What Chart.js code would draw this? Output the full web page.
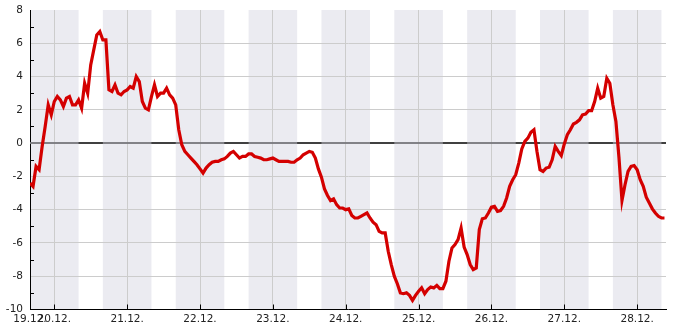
<!DOCTYPE html>
<html>
<head>
<meta charset="utf-8">
<script src="https://cdn.jsdelivr.net/npm/chart.js"></script>
<style>
  html, body { margin: 0; padding: 0; background: #fff; }
  canvas { display: block; }
</style>
</head>
<body>
<canvas id="chart" width="685" height="330"></canvas>
<script>
// hourly readings, hour 0 = 19.12. 00:00
const firstHour = 16;
const lastHour = 225.5;
const dayLabels = ['19.12.', '20.12.', '21.12.', '22.12.', '23.12.', '24.12.', '25.12.', '26.12.', '27.12.', '28.12.'];
const yTicks = [-10, -8, -6, -4, -2, 0, 2, 4, 6, 8];
// nights (16:00 -> 08:00), in hours
const nights = [[16, 32], [40, 56], [64, 80], [88, 104], [112, 128], [136, 152], [160, 176], [184, 200], [208, 224]];

const temps = [
  -2.4, -2.6, -1.4, -1.6, -0.2, 1.0, 2.3, 1.7, 2.5, 2.8,
  2.6, 2.2, 2.7, 2.8, 2.3, 2.3, 2.6, 2.1, 3.6, 3.0,
  4.7, 5.6, 6.5, 6.7, 6.2, 6.2, 3.2, 3.1, 3.5, 3.0,
  2.9, 3.1, 3.2, 3.4, 3.3, 4.0, 3.7, 2.5, 2.1, 2.0,
  2.8, 3.5, 2.8, 3.0, 3.0, 3.3, 2.9, 2.7, 2.3, 0.8,
  -0.1, -0.5, -0.7, -0.9, -1.1, -1.3, -1.55, -1.8, -1.5, -1.3,
  -1.15, -1.1, -1.1, -1.0, -0.95, -0.8, -0.6, -0.5, -0.7, -0.9,
  -0.8, -0.8, -0.65, -0.65, -0.8, -0.85, -0.9, -1.0, -1.0, -0.95,
  -0.9, -1.0, -1.1, -1.1, -1.1, -1.1, -1.15, -1.15, -1.0, -0.9,
  -0.7, -0.6, -0.5, -0.55, -0.9, -1.55, -2.05, -2.75, -3.15, -3.45,
  -3.35, -3.7, -3.9, -3.9, -4.0, -3.95, -4.35, -4.5, -4.5, -4.4,
  -4.3, -4.2, -4.5, -4.75, -4.9, -5.3, -5.4, -5.4, -6.5, -7.3,
  -8.0, -8.45, -9.0, -9.05, -9.0, -9.15, -9.45, -9.15, -8.9, -8.7,
  -9.05, -8.8, -8.65, -8.7, -8.55, -8.75, -8.75, -8.3, -7.1, -6.3,
  -6.1, -5.8, -5.1, -6.25, -6.7, -7.3, -7.6, -7.5, -5.2, -4.55,
  -4.5, -4.2, -3.85, -3.8, -4.1, -4.05, -3.8, -3.3, -2.6, -2.2,
  -1.9, -1.2, -0.35, 0.1, 0.3, 0.65, 0.8, -0.5, -1.6, -1.7,
  -1.5, -1.45, -1.0, -0.2, -0.5, -0.75, -0.05, 0.5, 0.8, 1.15,
  1.25, 1.4, 1.7, 1.75, 1.95, 1.95, 2.5, 3.3, 2.7, 2.8,
  3.9, 3.6, 2.3, 1.3, -0.85, -3.45, -2.5, -1.7, -1.4, -1.35,
  -1.6, -2.2, -2.6, -3.25, -3.6, -3.95, -4.2, -4.4, -4.5, -4.5
];

const hours = temps.map((_, i) => firstHour + i);
const points = temps.map((t, i) => ({ x: hours[i], y: t }));

const COLORS = {
  line: '#d40000',
  band: '#ebebf1',
  grid: '#cccccc',
  zeroNight: '#9b9ba0',
  text: '#222222'
};

// night bands under the grid, zero line + inner ticks before the data
const decor = {
  id: 'decor',
  beforeDraw(chart) {
    const { ctx, chartArea: a, scales: { x } } = chart;
    ctx.save();
    ctx.fillStyle = COLORS.band;
    nights.forEach(([s, e]) => {
      const x0 = Math.max(x.getPixelForValue(s), a.left);
      const x1 = Math.min(x.getPixelForValue(e), a.right);
      ctx.fillRect(x0, a.top, x1 - x0, a.bottom - a.top);
    });
    ctx.restore();
  },
  beforeDatasetsDraw(chart) {
    const { ctx, chartArea: a, scales: { x, y } } = chart;
    const y0 = y.getPixelForValue(0);
    ctx.save();
    ctx.lineWidth = 1.5;
    ctx.strokeStyle = '#000';
    ctx.beginPath();
    ctx.moveTo(a.left, y0);
    ctx.lineTo(a.right, y0);
    ctx.stroke();
    ctx.strokeStyle = COLORS.zeroNight;
    nights.forEach(([s, e]) => {
      const x0 = Math.max(x.getPixelForValue(s), a.left);
      const x1 = Math.min(x.getPixelForValue(e), a.right);
      ctx.beginPath();
      ctx.moveTo(x0, y0);
      ctx.lineTo(x1, y0);
      ctx.stroke();
    });

    // minor ticks on y (odd values), day ticks on x, pointing inward
    ctx.lineWidth = 1;
    ctx.strokeStyle = '#000';
    ctx.beginPath();
    for (let v = yTicks[0] + 1; v < yTicks[yTicks.length - 1]; v += 2) {
      const py = Math.round(y.getPixelForValue(v)) + 0.5;
      ctx.moveTo(a.left, py);
      ctx.lineTo(a.left + 4, py);
    }
    dayLabels.forEach((_, i) => {
      if (i === 0) return;
      const px = Math.round(x.getPixelForValue(i * 24)) + 0.5;
      ctx.moveTo(px, a.bottom);
      ctx.lineTo(px, a.bottom - 5);
    });
    ctx.stroke();
    ctx.restore();
  }
};

new Chart(document.getElementById('chart'), {
  type: 'line',
  data: {
    datasets: [{
      data: points,
      borderColor: COLORS.line,
      borderWidth: 3.2,
      pointRadius: 0,
      tension: 0,
      fill: false
    }]
  },
  options: {
    responsive: false,
    animation: false,
    layout: { padding: { left: 0, top: 10, right: 19, bottom: 0 } },
    plugins: { legend: { display: false }, tooltip: { enabled: false } },
    scales: {
      x: {
        type: 'linear',
        min: firstHour,
        max: lastHour,
        afterBuildTicks: (scale) => {
          scale.ticks = dayLabels.map((_, i) => ({ value: i === 0 ? firstHour : i * 24 }));
        },
        afterFit: (scale) => {
          scale.height = 20.5;
          scale.paddingLeft = 0;
          scale.paddingRight = 0;
        },
        grid: {
          drawTicks: false,
          color: (c) => (c.tick && c.tick.value === firstHour) ? 'rgba(0,0,0,0)' : COLORS.grid,
          lineWidth: 1
        },
        border: { color: '#000', width: 1 },
        ticks: {
          autoSkip: false,
          maxRotation: 0,
          padding: 3,
          color: COLORS.text,
          font: { family: 'DejaVu Sans', size: 10.5 },
          callback: (v) => dayLabels[Math.floor(v / 24)]
        }
      },
      y: {
        min: yTicks[0],
        max: yTicks[yTicks.length - 1],
        afterBuildTicks: (scale) => {
          scale.ticks = yTicks.map(v => ({ value: v }));
        },
        afterFit: (scale) => {
          scale.width = 30;
          scale.paddingTop = 0;
          scale.paddingBottom = 0;
        },
        grid: {
          drawTicks: false,
          color: (c) => (c.tick && (c.tick.value === 0 || c.tick.value === yTicks[yTicks.length - 1])) ? 'rgba(0,0,0,0)' : COLORS.grid,
          lineWidth: 1
        },
        border: { color: '#000', width: 1 },
        ticks: {
          padding: 7,
          color: COLORS.text,
          font: { family: 'DejaVu Sans', size: 10.5 }
        }
      }
    }
  },
  plugins: [decor]
});
</script>
</body>
</html>
